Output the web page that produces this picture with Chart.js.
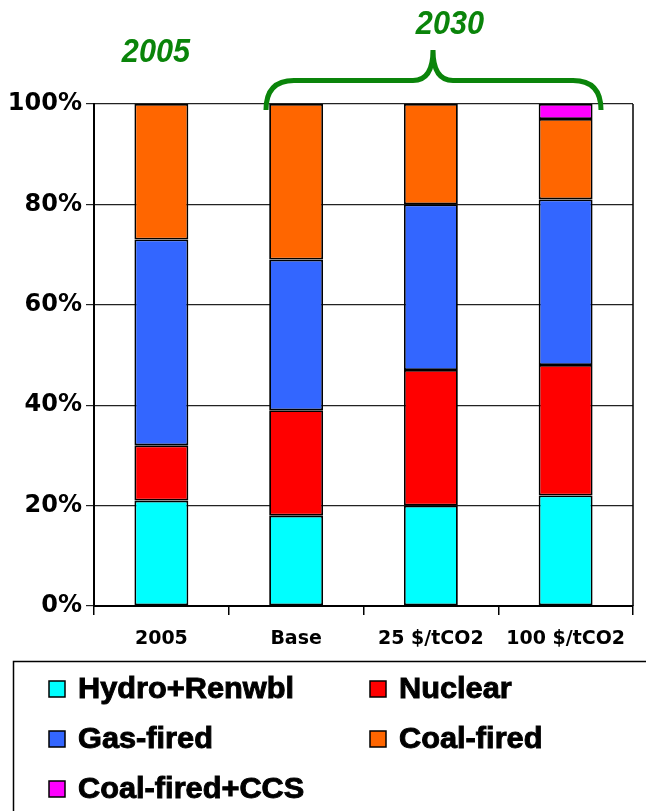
<!DOCTYPE html>
<html lang="en">
<head>
<meta charset="UTF-8" />
<title>Generation mix 2005 / 2030</title>
<script src="https://cdn.jsdelivr.net/npm/chart.js"></script>
<style>
  html, body { margin: 0; padding: 0; background: #fff; }
  #wrap { width: 646px; height: 811px; position: relative; }
</style>
</head>
<body>
<div id="wrap"><canvas id="mixChart" width="646" height="811"></canvas></div>
<script>
// categories and series (percent of generation)
const categories = ['2005', 'Base', '25 $/tCO2', '100 $/tCO2'];
const seriesNames = ['Hydro+Renwbl', 'Nuclear', 'Gas-fired', 'Coal-fired', 'Coal-fired+CCS'];
const hydro = [21, 18, 20, 22];
const nuclear = [11, 21, 27, 26];
const gas = [41, 30, 33, 33];
const coal = [27, 31, 20, 16];
const coalCcs = [0, 0, 0, 3];
const seriesColors = ['#00FFFF', '#FF0000', '#3366FF', '#FF6600', '#FF00FF'];
const yTicks = [0, 20, 40, 60, 80, 100];

const green = '#0a840a';
const heavy = '"DejaVu Sans", Verdana, sans-serif';

// brace + year labels above the plot, and the boxed legend below
const decorPlugin = {
  id: 'decor',
  afterDraw(chart) {
    const ctx = chart.ctx;
    const area = chart.chartArea;

    // right frame line
    ctx.save();
    ctx.strokeStyle = '#000';
    ctx.lineWidth = 1.5;
    ctx.beginPath();
    ctx.moveTo(area.right, area.top);
    ctx.lineTo(area.right, area.bottom);
    ctx.stroke();

    // year labels
    ctx.fillStyle = green;
    ctx.font = 'italic bold 33px "Liberation Sans", Arial, sans-serif';
    ctx.textAlign = 'center';
    ctx.textBaseline = 'alphabetic';
    [['2005', 156, 62], ['2030', 450, 34]].forEach(([t, tx, ty]) => {
      ctx.save();
      ctx.translate(tx, ty);
      ctx.scale(0.93, 1);
      ctx.fillText(t, 0, 0);
      ctx.restore();
    });

    // curly brace over the 2030 bars
    const l = 266, r = 601, tip = 433, yh = 80.5, yEnd = 110, yTip = 50;
    ctx.strokeStyle = green;
    ctx.lineWidth = 5;
    ctx.beginPath();
    ctx.moveTo(l, yEnd);
    ctx.quadraticCurveTo(l, yh, l + 28, yh);
    ctx.lineTo(tip - 20, yh);
    ctx.quadraticCurveTo(tip, yh, tip, yTip);
    ctx.quadraticCurveTo(tip, yh, tip + 20, yh);
    ctx.lineTo(r - 28, yh);
    ctx.quadraticCurveTo(r, yh, r, yEnd);
    ctx.stroke();

    // legend box
    ctx.strokeStyle = '#000';
    ctx.lineWidth = 1.5;
    ctx.strokeRect(13.5, 661.5, 660, 170);
    ctx.font = 'bold 29px "Liberation Sans", Arial, sans-serif';
    ctx.textAlign = 'left';
    ctx.textBaseline = 'middle';
    const pos = [[49, 689], [370, 689], [49, 739], [370, 739], [49, 789]];
    chart.data.datasets.forEach((ds, i) => {
      const [px, py] = pos[i];
      ctx.fillStyle = ds.backgroundColor;
      ctx.lineWidth = 1.5;
      ctx.fillRect(px, py - 8, 16, 16);
      ctx.strokeRect(px, py - 8, 16, 16);
      ctx.fillStyle = '#000';
      ctx.save();
      ctx.translate(px + 29, py + 1);
      ctx.scale(1.06, 1);
      ctx.lineWidth = 0.9;
      ctx.fillText(ds.label, 0, 0);
      ctx.strokeText(ds.label, 0, 0);
      ctx.restore();
    });
    ctx.restore();
  }
};

const allSeries = [hydro, nuclear, gas, coal, coalCcs];
const datasets = seriesNames.map((name, i) => ({
  label: name,
  data: allSeries[i],
  backgroundColor: seriesColors[i],
  borderColor: '#000',
  borderWidth: 1.8,
  borderSkipped: false,
  barPercentage: 0.4,
  categoryPercentage: 1.0
}));

new Chart(document.getElementById('mixChart'), {
  type: 'bar',
  data: { labels: categories, datasets: datasets },
  options: {
    responsive: false,
    animation: false,
    layout: { padding: { top: 104, right: 13, bottom: 0, left: 0 } },
    plugins: { legend: { display: false }, tooltip: { enabled: false } },
    scales: {
      x: {
        stacked: true,
        offset: true,
        grid: { drawOnChartArea: false, offset: true, color: '#000', tickLength: 9, lineWidth: 1.5 },
        border: { color: '#000', width: 2 },
        ticks: {
          color: '#000',
          padding: 13,
          font: { family: heavy, size: 19, weight: 'bold' }
        },
        afterFit(scale) { scale.height = 205; }
      },
      y: {
        stacked: true,
        min: 0,
        max: 100,
        afterBuildTicks(scale) { scale.ticks = yTicks.map(v => ({ value: v })); },
        grid: { color: '#222', lineWidth: 1.2, tickLength: 8 },
        border: { color: '#000', width: 2 },
        ticks: {
          color: '#000',
          padding: 4,
          callback: v => v + '%',
          font: { family: heavy, size: 24, weight: 'bold' }
        },
        afterFit(scale) { scale.width = 94; }
      }
    }
  },
  plugins: [decorPlugin]
});
</script>
</body>
</html>
